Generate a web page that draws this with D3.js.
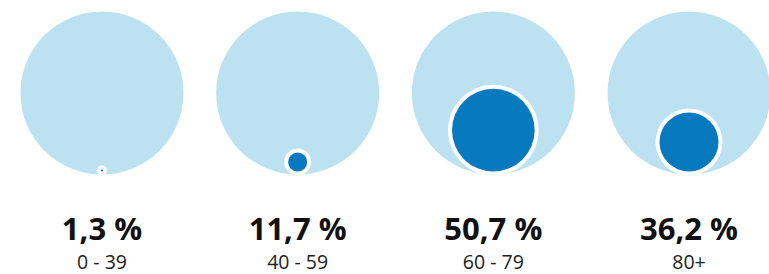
<!DOCTYPE html>
<html>
<head>
<meta charset="utf-8">
<script src="https://cdn.jsdelivr.net/npm/d3@7"></script>
<style>
  html, body { margin: 0; padding: 0; background: #fff; }
  svg { display: block; }
</style>
</head>
<body>
<svg id="chart" width="769" height="274"></svg>
<script>
const ageGroups = ["0 - 39", "40 - 59", "60 - 79", "80+"];
const shares = [1.3, 11.7, 50.7, 36.2];
const shareLabels = ["1,3 %", "11,7 %", "50,7 %", "36,2 %"];

const svg = d3.select("#chart");
const R = 81.5;
const cy = 93;

const x = d3.scalePoint().domain(ageGroups).range([102, 689]);
// the big circle stands for 100 %, radius is linear in the value
const r = d3.scaleLinear().domain([0, 100]).range([0, R]);

const data = ageGroups.map((g, i) => ({group: g, value: shares[i], label: shareLabels[i]}));

const g = svg.selectAll("g.item")
  .data(data)
  .join("g")
  .attr("class", "item")
  .attr("transform", d => `translate(${x(d.group)},0)`);

g.append("circle")
  .attr("cy", cy)
  .attr("r", R)
  .attr("fill", "#bce2f2");

// white halo then the dark circle, sitting on the bottom of the big one
g.append("circle")
  .attr("cy", d => cy + R - 3 - r(d.value))
  .attr("r", d => r(d.value) + 4)
  .attr("fill", "#fff");

g.append("circle")
  .attr("cy", d => cy + R - 3 - r(d.value))
  .attr("r", d => r(d.value))
  .attr("fill", "#0779bf");

g.append("text")
  .attr("y", 240)
  .attr("text-anchor", "middle")
  .attr("font-family", "'Open Sans', sans-serif")
  .attr("font-weight", 700)
  .attr("font-size", 31)
  .attr("fill", "#111")
  .text(d => d.label);

g.append("text")
  .attr("y", 268.5)
  .attr("text-anchor", "middle")
  .attr("font-family", "'Open Sans', sans-serif")
  .attr("font-weight", 400)
  .attr("font-size", 19.5)
  .attr("fill", "#222")
  .text(d => d.group);
</script>
</body>
</html>
